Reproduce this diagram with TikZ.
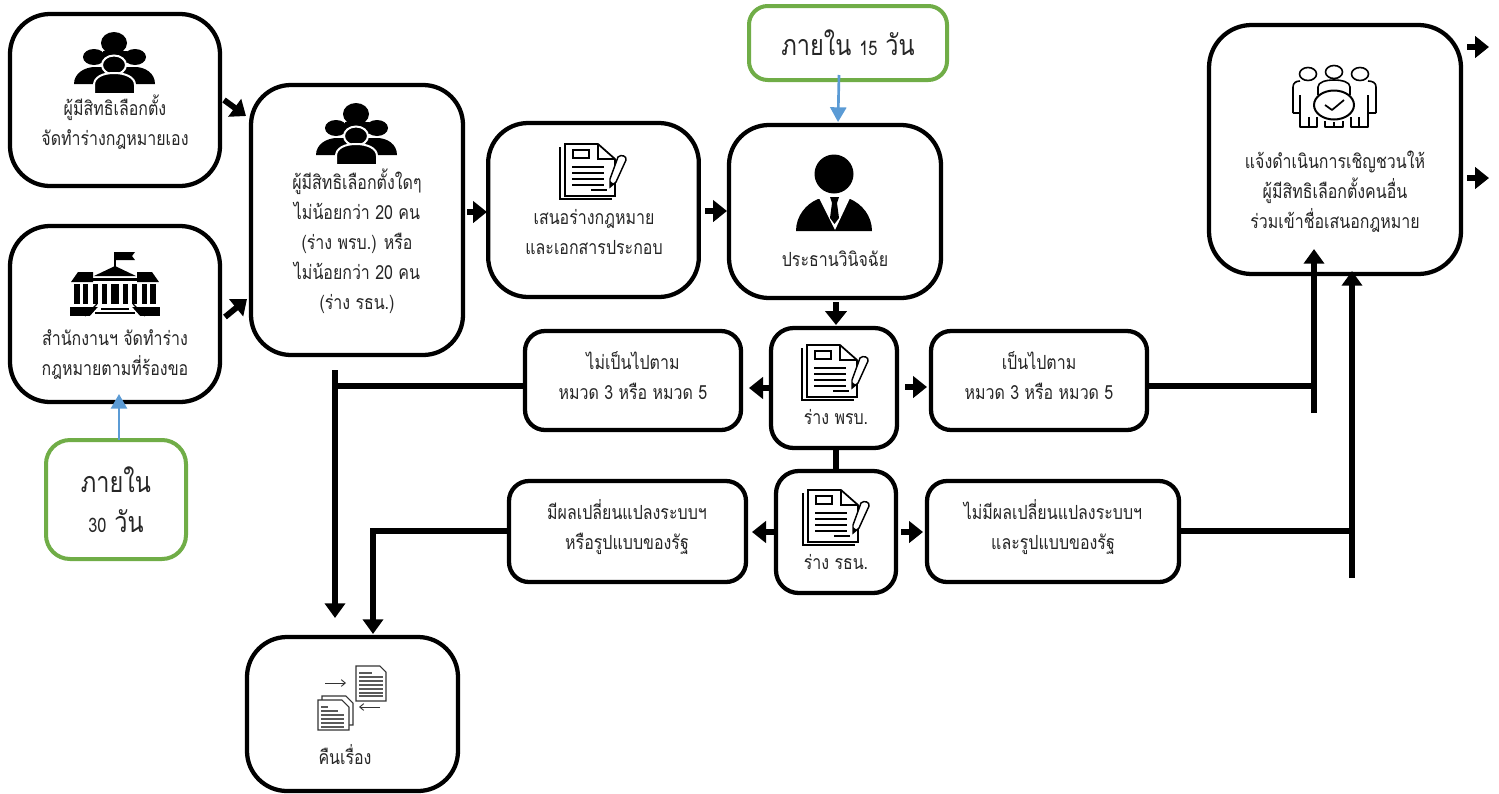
\documentclass[tikz,border=0pt]{standalone}
\usepackage{fontspec}
\newfontfamily\thaifont[Script=Thai,FakeStretch=0.82]{Loma}
\usetikzlibrary{arrows.meta}
\definecolor{gborder}{HTML}{70AD47}
\definecolor{barrow}{HTML}{5B9BD5}
\tikzset{
 x=0.75pt,y=-0.75pt,
 box/.style={draw=black,line width=3.2pt,fill=white,rounded corners=#1,inner sep=0pt,outer sep=0pt},
 box/.default=30pt,
 gbox/.style={draw=gborder,line width=3pt,fill=white,rounded corners=#1,inner sep=0pt,outer sep=0pt},
 lbl/.style={font=\thaifont\fontsize{14.6}{22.5}\selectfont,align=center,inner sep=0pt,text=black!85},
 big/.style={font=\thaifont\fontsize{21.5}{30}\selectfont,align=center,inner sep=0pt,text=black!85},
 flow/.style={line width=4pt,draw=black},
 flowa/.style={line width=4pt,draw=black,-{Triangle[length=11pt,width=15pt]}},
 sarrow/.style={line width=4.4pt,draw=black,-{Triangle[length=10.5pt,width=16pt]}},
 bluea/.style={line width=2pt,draw=barrow,-{Triangle[length=11pt,width=12pt]}},
 iconpeople/.pic={
  \fill[black] (-41,21) .. controls (-41,10) and (-30,4) .. (-20,4) -- (20,4) .. controls (30,4) and (40,10) .. (40,21) -- cycle;
  \fill[black] (-1,-20) circle[x radius=13,y radius=11];
  \fill[black] (-12,-12) rectangle (12,0);
  \fill[black] (-21,-6) circle[x radius=11,y radius=8];
  \fill[black] (20,-6) circle[x radius=11,y radius=8];
  \fill[black,draw=white,line width=1.5pt] (-1,2) circle[x radius=12,y radius=9.5];
  \fill[black,draw=white,line width=1.5pt] (-21,31) -- (-21,22) .. controls (-21,14) and (-12,10) .. (-1,10) .. controls (10,10) and (20,14) .. (20,22) -- (20,31) -- cycle;
 },
 icondoc/.pic={
  \draw[black,line width=0.9pt] (0,3) -- (0,55) -- (52,55);
  \draw[black,line width=1.3pt,fill=white] (5,0) -- (38,0) -- (55,15) -- (55,52) -- (5,52) -- cycle;
  \draw[black,line width=1pt] (38,0) -- (38,15) -- (55,15);
  \draw[black,line width=1.1pt] (13,6) rectangle (29,14);
  \foreach \yy in {23,29,35,41}{\draw[black,line width=1pt] (12,\yy) -- (44,\yy);}
  \draw[black,line width=1pt] (31,46) -- (47,46);
  \draw[black,line width=1.1pt,fill=white] (58,13) .. controls (61,10) and (67,12) .. (66,16) -- (56,38) -- (50,43) -- (50,35) -- cycle;
  \fill[black] (50,43) -- (50,37) -- (54,40) -- cycle;
 },
 iconbuilding/.pic={
  \draw[black,line width=1.3pt] (0,-48) -- (0,-33);
  \fill[black] (0,-48) -- (20,-48) -- (17,-44) -- (20,-40) -- (0,-40) -- cycle;
  \fill[black] (0,-34) -- (21,-24) -- (-21,-24) -- cycle;
  \fill[black] (-44,-18) -- (-37,-28) -- (-22,-28) -- (-22,-18) -- cycle;
  \fill[black] (44,-18) -- (37,-28) -- (22,-28) -- (22,-18) -- cycle;
  \fill[black] (-22,-22) rectangle (22,-19);
  \foreach \xa/\xb in {-41/-35,-32/-27,-22/-17,-13/-8,-4/4,8/13,17/22,27/32,35/41}{\fill[black] (\xa,-16) rectangle (\xb,4);}
  \fill[black] (-45,7) rectangle (45,16);
  \fill[white] (-25,16) -- (-17,7) -- (17,7) -- (25,16) -- cycle;
  \draw[black,line width=1.1pt] (-20,13) -- (20,13);
  \draw[black,line width=1.1pt] (-14,9) -- (14,9);
  \draw[black,line width=1pt] (-30,16) -- (-18,4) (30,16) -- (18,4);
 },
 iconperson/.pic={
  \fill[black] (0,0) circle[radius=19.5];
  \fill[black] (-38,57) .. controls (-38,42) and (-28,30) .. (-16,25) -- (16,25) .. controls (28,30) and (38,42) .. (38,57) -- cycle;
  \fill[white] (-15,24) -- (16,24) -- (1,56) -- cycle;
  \fill[black] (-4,23) -- (5,23) -- (3,29) -- (5,44) -- (0.5,50) -- (-4,44) -- (-2,29) -- cycle;
 },
 iconteam/.pic={
  \begin{scope}[black,line width=1.2pt,line join=round]
   \draw (-26,-31) circle[x radius=8.5,y radius=6.5];
   \draw (0,-33) circle[x radius=8.5,y radius=6.5];
   \draw (26,-31) circle[x radius=8.5,y radius=6.5];
   \draw (-34,-10) -- (-34,8) (-41,8) -- (-34,8);
   \draw (-41,8) -- (-41,-18) .. controls (-41,-22) and (-38,-24) .. (-34,-24);
   \draw (34,-10) -- (34,8) (42,8) -- (34,8);
   \draw (42,8) -- (42,-18) .. controls (42,-22) and (39,-24) .. (34,-24);
   \draw (-16,-10) -- (-16,-18) .. controls (-16,-23) and (-8,-25) .. (0,-25) .. controls (8,-25) and (16,-23) .. (16,-18) -- (16,-10);
   \draw (-34,8) -- (-34,22) -- (-17,22) -- (-17,12);
   \draw (34,8) -- (34,22) -- (17,22) -- (17,12);
   \draw (-25,12) -- (-25,22) (25,12) -- (25,22);
   \draw (-9,16) -- (-9,22) -- (9,22) -- (9,16) (0,17) -- (0,22);
   \draw[line width=1.5pt] (0,0) circle[x radius=20,y radius=14.5];
   \draw[line width=1.3pt] (-9,0) -- (-2,5) -- (10,-5);
  \end{scope}
 },
 iconexch/.pic={
  \draw[black!80,line width=.8pt,fill=white] (4,30) -- (28,30) -- (35,37) -- (35,59) -- (4,59) -- cycle;
  \draw[black!80,line width=.8pt,fill=white] (0,34) -- (24,34) -- (31,41) -- (31,64) -- (0,64) -- cycle;
  \foreach \yy/\xe in {41/10,45/20,49/26,53/26,57/26,61/26}{\draw[black!65,line width=1.6pt] (3,\yy) -- (\xe,\yy);}
  \draw[black!80,line width=.8pt,fill=white] (38,0) -- (62,0) -- (68,6) -- (68,35) -- (38,35) -- cycle;
  \draw[black!65,line width=.8pt] (41,7) -- (54,7);
  \foreach \yy in {11,15,19,23,27,30}{\draw[black!65,line width=.8pt] (41,\yy) -- (65,\yy);}
  \draw[black!80,line width=.7pt,-{Straight Barb[length=3pt,width=5pt]}] (7,17) -- (28,17);
  \draw[black!80,line width=.7pt,-{Straight Barb[length=3pt,width=5pt]}] (62,41) -- (41,41);
 },
}
\begin{document}
\begin{tikzpicture}
\useasboundingbox (0,0) rectangle (1499,793);
% boxes
\node[box,minimum width=157.5pt,minimum height=129pt] (A) at (115,100) {};
\node[box,minimum width=157.5pt,minimum height=132pt] (B) at (115,314) {};
\node[box,minimum width=159pt,minimum height=202.5pt] (C) at (357,220) {};
\node[box,minimum width=158pt,minimum height=130.5pt] (D) at (593.5,210) {};
\node[box,minimum width=159pt,minimum height=129.75pt] (E) at (835,211.5) {};
\node[box=32pt,minimum width=189pt,minimum height=186.75pt] (G) at (1335,149.5) {};
\node[box=17pt,minimum width=94.5pt,minimum height=90pt] (H) at (834,388) {};
\node[box=17pt,minimum width=90pt,minimum height=91.5pt] (I) at (836,532) {};
\node[box=15pt,minimum width=162pt,minimum height=74.25pt] (J) at (633,380.5) {};
\node[box=15pt,minimum width=162pt,minimum height=74.25pt] (K) at (1039,380.5) {};
\node[box=15pt,minimum width=177.75pt,minimum height=75.75pt] (L) at (627.5,531.5) {};
\node[box=15pt,minimum width=189pt,minimum height=75.75pt] (M) at (1053,531.5) {};
\node[box,minimum width=158.25pt,minimum height=115.5pt] (N) at (352.5,714) {};
\node[gbox=14pt,minimum width=148.5pt,minimum height=55.5pt] (F) at (848,43) {};
\node[gbox=18pt,minimum width=105pt,minimum height=89.25pt] (O) at (116,499.5) {};
% icons
\pic at (115,63) {iconpeople};
\pic at (357,134) {iconpeople};
\pic at (115,300) {iconbuilding};
\pic at (560,144) {icondoc};
\pic at (802,345) {icondoc};
\pic at (803,490) {icondoc};
\pic at (834,174) {iconperson};
\pic at (1334,105) {iconteam};
\pic at (318,666) {iconexch};
% labels
\node[lbl] (tA) at (115,124.5) {\strut ผู้มีสิทธิเลือกตั้ง\\\strut จัดทำร่างกฎหมายเอง};
\node[lbl] (tB) at (115,354.5) {\strut สำนักงานฯ จัดทำร่าง\\\strut กฎหมายตามที่ร้องขอ};
\node[lbl] (tC) at (357,243) {\strut ผู้มีสิทธิเลือกตั้งใดๆ\\\strut ไม่น้อยกว่า 20 คน\\\strut (ร่าง พรบ.) หรือ\\\strut ไม่น้อยกว่า 20 คน\\\strut (ร่าง รธน.)};
\node[lbl] (tD) at (594,233) {\strut เสนอร่างกฎหมาย\\\strut และเอกสารประกอบ};
\node[lbl] (tE) at (835,260) {\strut ประธานวินิจฉัย};
\node[lbl] (tG) at (1335,192) {\strut แจ้งดำเนินการเชิญชวนให้\\\strut ผู้มีสิทธิเลือกตั้งคนอื่น\\\strut ร่วมเข้าชื่อเสนอกฎหมาย};
\node[lbl] (tH) at (836,418) {\strut ร่าง พรบ.};
\node[lbl] (tI) at (836,563) {\strut ร่าง รธน.};
\node[lbl] (tJ) at (633,378) {\strut ไม่เป็นไปตาม\\\strut หมวด 3 หรือ หมวด 5};
\node[lbl] (tK) at (1039,378) {\strut เป็นไปตาม\\\strut หมวด 3 หรือ หมวด 5};
\node[lbl] (tL) at (627,528) {\strut มีผลเปลี่ยนแปลงระบบฯ\\\strut หรือรูปแบบของรัฐ};
\node[lbl] (tM) at (1053,528) {\strut ไม่มีผลเปลี่ยนแปลงระบบฯ\\\strut และรูปแบบของรัฐ};
\node[lbl] (tN) at (345,758) {\strut คืนเรื่อง};
\node[big] (tF) at (848,47) {\strut ภายใน {\fontsize{15}{30}\selectfont 15} วัน};
\node[big] (tO) at (116,504) {\strut ภายใน\\\strut {\fontsize{15}{30}\selectfont 30} วัน};
% connector end points
\coordinate (a1) at (224,100); \coordinate (a2) at (246,116);
\coordinate (b1) at (225,317); \coordinate (b2) at (247,299);
\coordinate (c1) at (467,212); \coordinate (c2) at (487,212);
\coordinate (d1) at (705,211); \coordinate (d2) at (727,211);
\coordinate (e1) at (836,302); \coordinate (e2) at (836,325);
\coordinate (h1) at (770,388); \coordinate (h2) at (749,388);
\coordinate (h3) at (905,387); \coordinate (h4) at (927,387);
\coordinate (i1) at (775,532); \coordinate (i2) at (752,532);
\coordinate (i3) at (901,532); \coordinate (i4) at (923,532);
\coordinate (g1) at (1467,47); \coordinate (g2) at (1489,47);
\coordinate (g3) at (1467,178); \coordinate (g4) at (1489,178);
\coordinate (jt) at (335,370); \coordinate (jm) at (335,386); \coordinate (jb) at (335,618);
\coordinate (lm) at (373,531); \coordinate (lb) at (373,634);
\coordinate (kb) at (1314,413); \coordinate (km) at (1314,386); \coordinate (kt) at (1314,249);
\coordinate (mb) at (1352,578); \coordinate (mm) at (1352,531); \coordinate (mt) at (1352,271);
\coordinate (f1) at (839,75); \coordinate (f2) at (838,122);
\coordinate (o1) at (119,440); \coordinate (o2) at (119,394);
% connectors
\foreach \p/\q in {a1/a2,b1/b2,c1/c2,d1/d2,e1/e2,h1/h2,h3/h4,i1/i2,i3/i4,g1/g2,g3/g4}{\draw[sarrow] (\p) -- (\q);}
\draw[flow] (H.south -| I.north) -- (I.north);
\draw[flow] (J.west |- jm) -- (jm);
\draw[flowa] (jt) -- (jb);
\draw[flowa,line join=miter] (L.west |- lm) -- (lm) -- (lb);
\draw[flow] (K.east |- km) -- (km);
\draw[flowa] (kb) -- (kt);
\draw[flow] (M.east |- mm) -- (mm);
\draw[flowa] (mb) -- (mt);
\draw[bluea] (f1) -- (f2);
\draw[bluea] (o1) -- (o2);
\end{tikzpicture}
\end{document}
